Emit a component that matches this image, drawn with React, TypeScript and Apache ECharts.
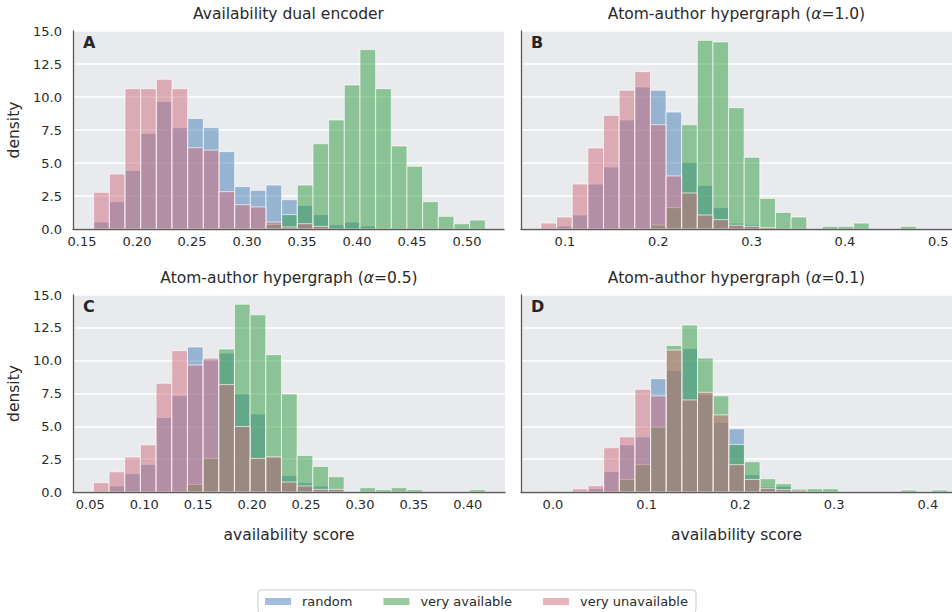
import React, { useEffect, useRef } from "react";
import * as echarts from "echarts";

const FONT = "DejaVu Sans";
const TEXT = "#2a2a2a";

// Series colours (drawn at half opacity, layered blue → green → red)
const COLOR_RANDOM = "rgba(68,126,182,0.5)";
const COLOR_AVAILABLE = "rgba(48,156,62,0.5)";
const COLOR_UNAVAILABLE = "rgba(208,106,122,0.5)";

const SERIES_NAMES = ["random", "very available", "very unavailable"];

// Panel A — Availability dual encoder
const binStartA = 0.1606;
const binWidthA = 0.01424;
const randomA = [0.53, 2.07, 4.44, 7.25, 9.67, 7.68, 8.38, 7.68, 5.86, 3.21, 2.93, 3.33, 2.22, 1.79, 1.09, 0.35, 0.53, 0.23, 0, 0, 0, 0, 0, 0, 0];
const availableA = [0, 0, 0, 0, 0, 0, 0, 0, 0, 0, 0, 0.35, 1.09, 3.33, 6.46, 8.26, 10.91, 13.59, 10.63, 6.29, 4.75, 2.07, 0.96, 0.4, 0.68];
const unavailableA = [2.78, 4.17, 10.63, 10.63, 11.34, 10.63, 6.16, 5.98, 2.83, 1.84, 1.67, 0.53, 0.15, 0.4, 0.2, 0, 0, 0, 0, 0, 0, 0, 0, 0, 0];

// Panel B — Atom-author hypergraph (alpha = 1.0)
const binStartB = 0.0743;
const binWidthB = 0.01675;
const randomB = [0, 0.23, 1.06, 3.41, 4.7, 8.26, 10.76, 10.51, 8.86, 5.05, 3.31, 1.62, 0.45, 0.35, 0.1, 0, 0, 0, 0, 0, 0, 0, 0, 0];
const availableB = [0, 0, 0, 0, 0, 0, 0, 0.3, 1.62, 7.9, 14.29, 14.17, 9.19, 5.43, 2.32, 1.26, 0.91, 0, 0.2, 0.2, 0.45, 0, 0, 0.2];
const unavailableB = [0.45, 0.91, 3.41, 6.14, 8.61, 10.51, 11.92, 7.9, 4.02, 2.73, 1.06, 0.71, 0.28, 0.2, 0.1, 0, 0, 0, 0, 0, 0, 0, 0, 0];

// Panel C — Atom-author hypergraph (alpha = 0.5)
const binStartC = 0.0529;
const binWidthC = 0.01453;
const randomC = [0, 0.46, 1.39, 2.1, 5.67, 7.34, 11.04, 10.05, 10.58, 7.47, 5.95, 2.6, 1.27, 0.71, 0.46, 0.2, 0, 0, 0, 0, 0, 0, 0, 0, 0];
const availableC = [0, 0, 0, 0, 0, 0, 0.58, 2.56, 10.89, 14.3, 13.49, 10.46, 7.47, 2.78, 1.95, 1.16, 0, 0.33, 0.18, 0.33, 0.18, 0, 0, 0, 0.18];
const unavailableC = [0.71, 1.54, 2.66, 3.59, 8.28, 10.76, 9.67, 10.2, 8.18, 4.99, 2.56, 2.68, 0.76, 0.46, 0.2, 0.2, 0, 0, 0, 0, 0, 0, 0, 0, 0];

// Panel D — Atom-author hypergraph (alpha = 0.1)
const binStartD = -0.0126;
const binWidthD = 0.01668;
const randomD = [0, 0, 0, 0.25, 1.57, 3.59, 4.2, 8.63, 9.24, 10.94, 7.4, 5.3, 4.81, 1.32, 0.41, 0.43, 0, 0, 0, 0, 0, 0, 0, 0, 0, 0];
const availableD = [0, 0, 0, 0, 0, 0.96, 2.08, 4.94, 11.16, 12.71, 10.2, 7.32, 3.62, 2.3, 1.01, 0.63, 0.25, 0.25, 0.25, 0, 0, 0, 0, 0.15, 0, 0.15];
const unavailableD = [0.05, 0, 0.25, 0.48, 3.37, 4.2, 7.82, 7.32, 10.81, 7.01, 7.59, 5.87, 2.08, 0.96, 0.28, 0.18, 0.15, 0, 0, 0, 0, 0, 0, 0, 0, 0];

// Axis ranges and tick labels
const xRangeA = [0.1418, 0.5336];
const xRangeB = [0.0529, 0.5147];
const xRangeC = [0.034, 0.4345];
const xRangeD = [-0.0341, 0.4257];
const xTicksA = [0.15, 0.2, 0.25, 0.3, 0.35, 0.4, 0.45, 0.5];
const xTicksB = [0.1, 0.2, 0.3, 0.4, 0.5];
const xTicksC = [0.05, 0.1, 0.15, 0.2, 0.25, 0.3, 0.35, 0.4];
const xTicksD = [0.0, 0.1, 0.2, 0.3, 0.4];
const yMax = 15;
const yStep = 2.5;

const panelTitles = [
  "Availability dual encoder",
  "Atom-author hypergraph ({a|α}=1.0)",
  "Atom-author hypergraph ({a|α}=0.5)",
  "Atom-author hypergraph ({a|α}=0.1)",
];
const panelLetters = ["A", "B", "C", "D"];

type Panel = {
  start: number;
  width: number;
  series: number[][];
  range: number[];
  ticks: number[];
  decimals: number;
};

const panels: Panel[] = [
  { start: binStartA, width: binWidthA, series: [randomA, availableA, unavailableA], range: xRangeA, ticks: xTicksA, decimals: 2 },
  { start: binStartB, width: binWidthB, series: [randomB, availableB, unavailableB], range: xRangeB, ticks: xTicksB, decimals: 1 },
  { start: binStartC, width: binWidthC, series: [randomC, availableC, unavailableC], range: xRangeC, ticks: xTicksC, decimals: 2 },
  { start: binStartD, width: binWidthD, series: [randomD, availableD, unavailableD], range: xRangeD, ticks: xTicksD, decimals: 1 },
];

const gridBoxes = [
  { left: 73, top: 31, width: 431, height: 198 },
  { left: 521, top: 31, width: 431, height: 198 },
  { left: 73, top: 295, width: 432, height: 197 },
  { left: 521, top: 295, width: 431, height: 197 },
];

const colors = [COLOR_RANDOM, COLOR_AVAILABLE, COLOR_UNAVAILABLE];

function histData(start: number, width: number, values: number[]) {
  return values.map((v, i) => [start + i * width, start + (i + 1) * width, v]);
}

function renderBin(params: any, api: any) {
  const h = api.value(2);
  if (!h) return null;
  const p0 = api.coord([api.value(0), h]);
  const p1 = api.coord([api.value(1), 0]);
  return {
    type: "rect",
    shape: { x: p0[0], y: p0[1], width: p1[0] - p0[0], height: p1[1] - p0[1] },
    style: { fill: api.visual("color"), stroke: "rgba(255,255,255,0.65)", lineWidth: 1 },
  };
}

function buildOption() {
  const grid = gridBoxes.map((g) => ({
    ...g,
    show: true,
    backgroundColor: "#E8EAEE",
    borderWidth: 0,
    containLabel: false,
  }));

  const xAxis = panels.map((p, i) => ({
    type: "value",
    gridIndex: i,
    min: p.range[0],
    max: p.range[1],
    z: 5,
    axisLine: { show: true, onZero: false, lineStyle: { color: "#5c5c5c", width: 1.3 } },
    axisTick: { show: false },
    splitLine: { show: false },
    axisLabel: {
      customValues: p.ticks,
      formatter: (v: number) => v.toFixed(p.decimals),
      fontSize: 13,
      color: TEXT,
      fontFamily: FONT,
      margin: 6,
    },
    name: i >= 2 ? "availability score" : "",
    nameLocation: "middle",
    nameGap: 35,
    nameTextStyle: { fontSize: 15.5, color: TEXT, fontFamily: FONT },
  }));

  const yAxis = panels.map((_, i) => ({
    type: "value",
    gridIndex: i,
    min: 0,
    max: yMax,
    interval: yStep,
    axisLine: { show: true, onZero: false, lineStyle: { color: "#5c5c5c", width: 1.3 } },
    axisTick: { show: false },
    splitLine: { show: true, lineStyle: { color: "#ffffff", width: 1.5 } },
    axisLabel: {
      show: i % 2 === 0,
      formatter: (v: number) => v.toFixed(1),
      fontSize: 13,
      color: TEXT,
      fontFamily: FONT,
      margin: 11,
    },
    name: i % 2 === 0 ? "density" : "",
    nameLocation: "middle",
    nameGap: 51,
    nameTextStyle: { fontSize: 15.5, color: TEXT, fontFamily: FONT },
  }));

  const series: any[] = [];
  panels.forEach((p, i) => {
    p.series.forEach((vals, k) => {
      series.push({
        type: "custom",
        name: SERIES_NAMES[k],
        xAxisIndex: i,
        yAxisIndex: i,
        itemStyle: { color: colors[k] },
        encode: { x: [0, 1], y: 2 },
        data: histData(p.start, p.width, vals),
        renderItem: renderBin,
        z: 2,
      });
    });
  });

  const title = panelTitles.map((t, i) => ({
    text: t,
    left: gridBoxes[i].left + gridBoxes[i].width / 2,
    top: gridBoxes[i].top - 25,
    padding: 0,
    textAlign: "center",
    textStyle: {
      fontSize: 15.5,
      fontWeight: "normal",
      color: TEXT,
      fontFamily: FONT,
      rich: { a: { fontStyle: "italic", fontSize: 15.5, color: TEXT, fontFamily: FONT } },
    },
  }));

  const graphic = panelLetters.map((l, i) => ({
    type: "text",
    left: gridBoxes[i].left + 10,
    top: gridBoxes[i].top + 3,
    style: { text: l, font: `bold 16px "${FONT}"`, fill: "#262626" },
    z: 10,
  }));

  return {
    animation: false,
    backgroundColor: "#ffffff",
    textStyle: { fontFamily: FONT },
    title,
    grid,
    xAxis,
    yAxis,
    series,
    graphic,
    legend: {
      data: SERIES_NAMES,
      left: 258,
      top: 590,
      icon: "rect",
      itemWidth: 26,
      itemHeight: 7,
      itemGap: 31,
      selectedMode: false,
      backgroundColor: "#ffffff",
      borderColor: "#cccccc",
      borderWidth: 1,
      borderRadius: 3,
      padding: [5, 8, 5, 7],
      itemStyle: { borderWidth: 0 },
      textStyle: { fontSize: 13, color: TEXT, fontFamily: FONT, padding: [0, 0, 0, 6] },
    },
  };
}

export default function App() {
  const ref = useRef<HTMLDivElement>(null);
  useEffect(() => {
    if (!ref.current) return;
    const chart = echarts.init(ref.current, null, { renderer: "svg" });
    chart.setOption(buildOption() as any);
    return () => chart.dispose();
  }, []);
  return (
    <div
      ref={ref}
      style={{ position: "fixed", left: 0, top: 0, width: 952, height: 612 }}
    />
  );
}
